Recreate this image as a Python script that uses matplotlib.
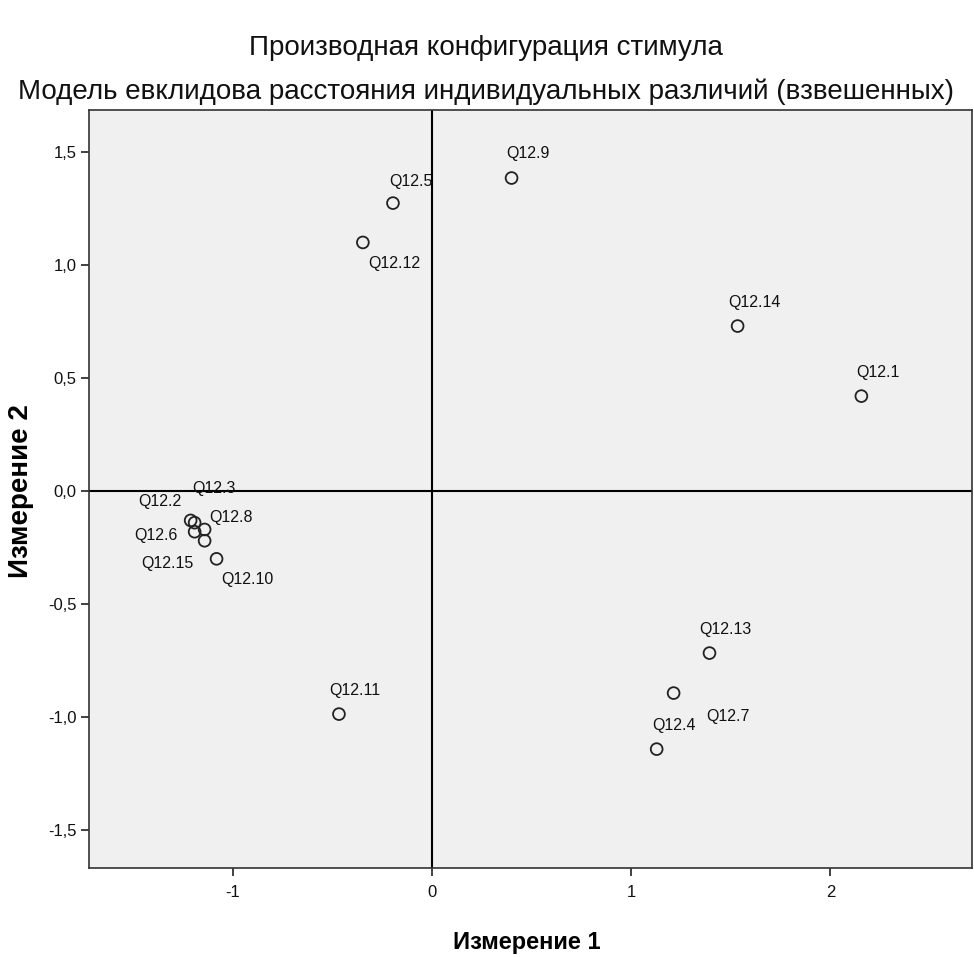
import matplotlib
matplotlib.use("Agg")
import matplotlib.pyplot as plt

plt.rcParams['font.family'] = ['Liberation Sans', 'DejaVu Sans']

labels = ["Q12.1", "Q12.2", "Q12.3", "Q12.4", "Q12.5", "Q12.6", "Q12.7", "Q12.8",
          "Q12.9", "Q12.10", "Q12.11", "Q12.12", "Q12.13", "Q12.14", "Q12.15"]
dim1 = [2.155, -1.21, -1.19, 1.128, -0.195, -1.19, 1.213, -1.14,
        0.40, -1.08, -0.466, -0.346, 1.393, 1.534, -1.14]
dim2 = [0.42, -0.13, -0.14, -1.142, 1.274, -0.18, -0.894, -0.17,
        1.385, -0.30, -0.987, 1.10, -0.717, 0.73, -0.22]

# label offsets in pixels (dx to left edge, dy to center; +dy = up)
offsets = {
    "Q12.1": (-5, 24), "Q12.2": (-52, 19), "Q12.3": (-2, 34), "Q12.4": (-4, 24),
    "Q12.5": (-4, 22), "Q12.6": (-60, -4), "Q12.7": (33, -23), "Q12.8": (5, 12),
    "Q12.9": (-5, 25), "Q12.10": (5, -21), "Q12.11": (-10, 24), "Q12.12": (5, -21),
    "Q12.13": (-10, 24), "Q12.14": (-9, 24), "Q12.15": (-63, -23),
}

W, H = 974, 957
fig = plt.figure(figsize=(W / 100, H / 100), dpi=100)
fig.patch.set_facecolor("white")
ax = fig.add_axes([89 / W, (H - 868) / H, (972 - 89) / W, (868 - 110) / H])
ax.set_facecolor("#f0f0f0")

ax.set_xlim(-1.72, 2.71)
ax.set_ylim(-1.668, 1.686)

ax.axhline(0, color="black", lw=1.5, zorder=1)
ax.axvline(0, color="black", lw=1.5, zorder=1)

ax.scatter(dim1, dim2, s=72, facecolors="none", edgecolors="#222222", linewidths=1.3, zorder=3)

for lab, x, y in zip(labels, dim1, dim2):
    dx, dy = offsets[lab]
    ax.annotate(lab, (x, y), xytext=(dx * 0.72, dy * 0.72), textcoords="offset points",
                ha="left", va="center", fontsize=11.5, color="#111111", zorder=4)

ax.set_xticks([-1, 0, 1, 2])
ax.set_xticklabels(["-1", "0", "1", "2"])
yt = [-1.5, -1.0, -0.5, 0.0, 0.5, 1.0, 1.5]
ax.set_yticks(yt)
ax.set_yticklabels([f"{v:.1f}".replace(".", ",") for v in yt])
ax.tick_params(axis="both", direction="out", length=6, width=1.3, color="#333333",
               labelsize=12, labelcolor="#111111")
ax.tick_params(axis="x", pad=6)
ax.tick_params(axis="y", pad=3)
for s in ax.spines.values():
    s.set_color("#333333")
    s.set_linewidth(1.2)

axw = (972 - 89)
axh = (868 - 110)
ax.set_xlabel("Измерение 1", fontsize=17, fontweight="bold", va="center")
ax.xaxis.set_label_coords(0.5 - 4 / axw, (868 - 942) / axh)
ax.set_ylabel("Измерение 2", fontsize=20, fontweight="bold", va="center")
ax.yaxis.set_label_coords((21 - 89) / axw, 0.5 - 2 / axh)

fig.text(485.5 / W, 1 - 48 / H, "Производная конфигурация стимула", ha="center", va="center",
         fontsize=20, color="#111111")
fig.text(486 / W, 1 - 92 / H, "Модель евклидова расстояния индивидуальных различий (взвешенных)",
         ha="center", va="center", fontsize=20, color="#111111")

fig.savefig("out.png", dpi=100)
